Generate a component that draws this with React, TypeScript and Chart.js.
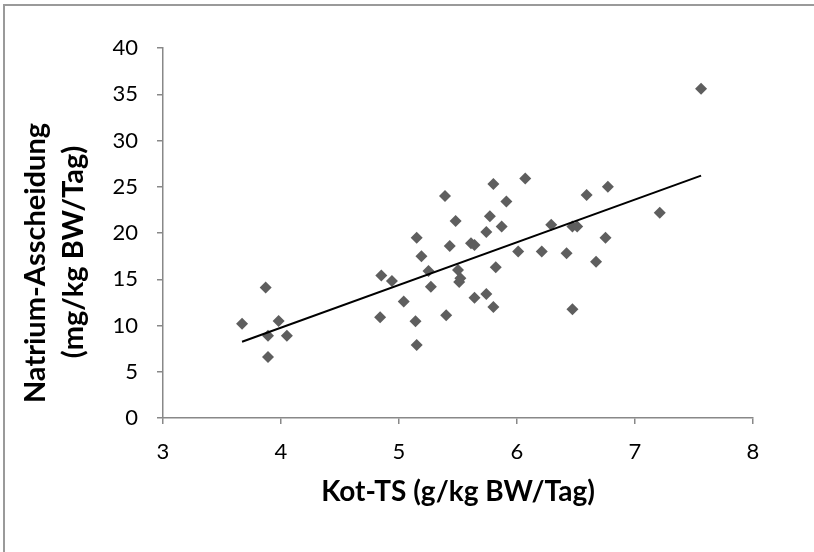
import React, { useEffect, useRef } from "react";
import { Chart, registerables } from "chart.js";

Chart.register(...registerables);

// Kot-TS (g/kg BW/Tag)
const kotTS = [
  3.67, 3.87, 3.89, 3.89, 3.98, 4.05, 4.84, 4.85, 4.94, 5.04, 5.14, 5.15,
  5.15, 5.19, 5.25, 5.27, 5.39, 5.40, 5.43, 5.48, 5.50, 5.52, 5.51, 5.61,
  5.64, 5.64, 5.74, 5.74, 5.77, 5.80, 5.80, 5.82, 5.87, 5.91, 6.01, 6.07,
  6.21, 6.29, 6.42, 6.47, 6.51, 6.47, 6.59, 6.67, 6.75, 6.77, 7.21, 7.56,
];
// Natrium-Ausscheidung (mg/kg BW/Tag)
const natrium = [
  10.2, 14.1, 8.9, 6.6, 10.5, 8.9, 10.9, 15.4, 14.8, 12.6, 10.45, 19.5,
  7.9, 17.5, 15.9, 14.2, 24.0, 11.1, 18.6, 21.3, 16.0, 15.1, 14.7, 18.9,
  18.7, 13.0, 20.1, 13.4, 21.8, 25.3, 12.0, 16.3, 20.7, 23.4, 18.0, 25.9,
  18.0, 20.9, 17.8, 20.7, 20.7, 11.75, 24.1, 16.9, 19.5, 25.0, 22.2, 35.6,
];
// linear trend line end points
const trendX = [3.67, 7.56];
const trendY = [8.25, 26.2];

const xTicks = [3, 4, 5, 6, 7, 8];
const yTicks = [0, 5, 10, 15, 20, 25, 30, 35, 40];

const xTitle = "Kot-TS (g/kg BW/Tag)";
const yTitle = ["Natrium-Asscheidung", "(mg/kg BW/Tag)"];

const FONT = "Lato, 'Open Sans', sans-serif";
const AXIS_GRAY = "#888888";

// draws the two-line rotated y-axis title as canvas text
const yTitlePlugin = {
  id: "yTitleLines",
  afterDraw(chart: any) {
    const ctx = chart.ctx;
    const area = chart.chartArea;
    const mid = (area.top + area.bottom) / 2;
    const places = [
      { x: 35.5, y: mid + 30 },
      { x: 73.5, y: mid + 19 },
    ];
    ctx.save();
    ctx.font = `bold 29px ${FONT}`;
    ctx.fillStyle = "#000000";
    ctx.textAlign = "center";
    ctx.textBaseline = "middle";
    yTitle.forEach((line, i) => {
      ctx.save();
      ctx.translate(places[i].x, places[i].y);
      ctx.rotate(-Math.PI / 2);
      ctx.fillText(line, 0, 0);
      ctx.restore();
    });
    ctx.restore();
  },
};

export default function App() {
  const ref = useRef<HTMLCanvasElement | null>(null);

  useEffect(() => {
    if (!ref.current) return;
    const scatterData = kotTS.map((x, i) => ({ x, y: natrium[i] }));
    const trendData = trendX.map((x, i) => ({ x, y: trendY[i] }));
    const chart = new Chart(ref.current, {
      type: "scatter",
      data: {
        datasets: [
          {
            type: "line",
            data: trendData,
            borderColor: "#000000",
            borderWidth: 2,
            pointRadius: 0,
            fill: false,
            order: 0,
          } as any,
          {
            data: scatterData,
            pointStyle: "rectRot",
            pointRadius: 6,
            pointHoverRadius: 6,
            backgroundColor: "#5e5e5e",
            borderColor: "#5e5e5e",
            borderWidth: 0,
            order: 1,
          },
        ],
      },
      plugins: [yTitlePlugin],
      options: {
        responsive: false,
        animation: false,
        layout: { padding: { left: 0, top: 48, right: 61, bottom: 0 } },
        plugins: {
          legend: { display: false },
          tooltip: { enabled: false },
        },
        scales: {
          x: {
            type: "linear",
            min: xTicks[0],
            max: xTicks[xTicks.length - 1],
            afterBuildTicks: (s: any) => {
              s.ticks = xTicks.map((v) => ({ value: v }));
            },
            afterFit: (s: any) => {
              s.height = 134;
            },
            grid: {
              drawOnChartArea: false,
              drawTicks: true,
              tickLength: 6,
              color: AXIS_GRAY,
              lineWidth: 1.5,
            },
            border: { display: true, color: AXIS_GRAY, width: 1.5 },
            ticks: {
              color: "#000000",
              padding: 15,
              font: { family: FONT, size: 22 },
            },
            title: {
              display: true,
              text: xTitle,
              color: "#000000",
              font: { family: FONT, size: 28, weight: "bold" },
              padding: { top: 0, bottom: 43 },
            },
          },
          y: {
            type: "linear",
            min: yTicks[0],
            max: yTicks[yTicks.length - 1],
            afterBuildTicks: (s: any) => {
              s.ticks = yTicks.map((v) => ({ value: v }));
            },
            afterFit: (s: any) => {
              s.width = 163;
            },
            grid: {
              drawOnChartArea: false,
              drawTicks: true,
              tickLength: 6,
              color: AXIS_GRAY,
              lineWidth: 1.5,
            },
            border: { display: true, color: AXIS_GRAY, width: 1.5 },
            ticks: {
              color: "#000000",
              padding: 19,
              font: { family: FONT, size: 22 },
            },
            title: { display: false },
          },
        },
      },
    });
    return () => chart.destroy();
  }, []);

  return (
    <div
      style={{
        position: "absolute",
        left: 0,
        top: 0,
        width: 814,
        height: 552,
        background: "#ffffff",
      }}
    >
      <div
        style={{
          position: "absolute",
          left: 3,
          top: 4,
          width: 830,
          height: 570,
          borderLeft: "2px solid #9a9a9a",
          borderTop: "2px solid #9a9a9a",
        }}
      />
      <canvas
        ref={ref}
        width={814}
        height={552}
        style={{ position: "absolute", left: 0, top: 0 }}
      />
    </div>
  );
}
